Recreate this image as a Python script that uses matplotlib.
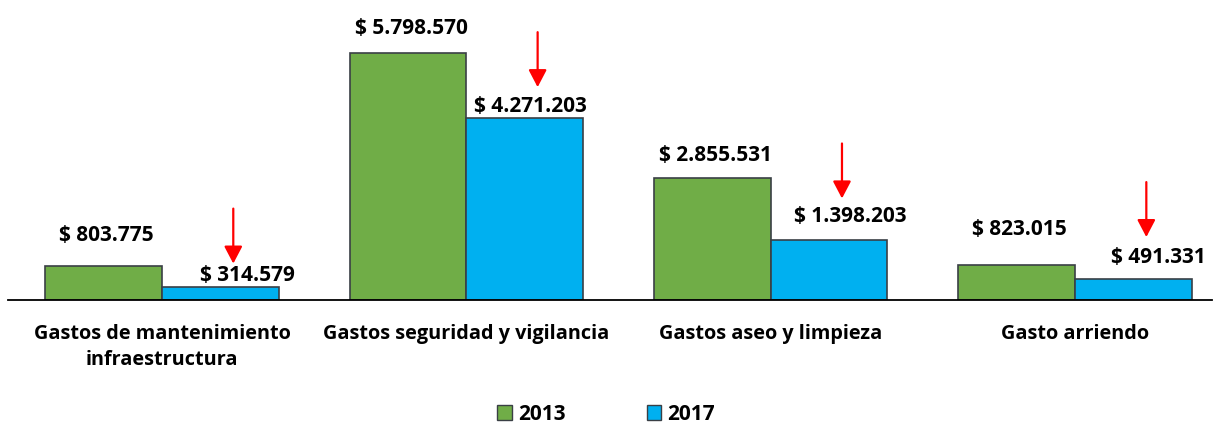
import numpy as np
import matplotlib.pyplot as plt
from matplotlib.transforms import offset_copy
from matplotlib.patches import Patch

# datos
categorias = ["Gastos de mantenimiento\ninfraestructura", "Gastos seguridad y vigilancia",
              "Gastos aseo y limpieza", "Gasto arriendo"]
valores_2013 = [803775, 5798570, 2855531, 823015]
valores_2017 = [314579, 4271203, 1398203, 491331]
etiquetas_2013 = ["$ 803.775", "$ 5.798.570", "$ 2.855.531", "$ 823.015"]
etiquetas_2017 = ["$ 314.579", "$ 4.271.203", "$ 1.398.203", "$ 491.331"]

plt.rcParams['font.family'] = ['Open Sans', 'DejaVu Sans']
verde = '#70AD47'
azul = '#00B0F0'
borde = '#3a3f45'
fs = 15

fig = plt.figure(figsize=(12.16, 4.24), dpi=100)
ax = fig.add_axes([8/1216, 124/424, 1204/1216, 298/424])

x = np.arange(len(categorias))
w = 0.383
ax.bar(x - w/2, valores_2013, w, color=verde, edgecolor=borde, linewidth=1.2)
ax.bar(x + w/2, valores_2017, w, color=azul, edgecolor=borde, linewidth=1.2)

# desplazamientos de etiquetas y flechas (pixeles)
dy13 = [30, 25, 23, 35]
dx17 = [27, 6, 21, 25]
dy17 = [11, 12, 24, 22]
dyf = [23, 31, 42, 42]
for i in range(len(categorias)):
    t = offset_copy(ax.transData, fig, x=3, y=dy13[i], units='dots')
    ax.text(x[i] - w/2, valores_2013[i], etiquetas_2013[i], transform=t,
            ha='center', va='center', fontsize=fs, fontweight='bold')
    t = offset_copy(ax.transData, fig, x=dx17[i], y=dy17[i], units='dots')
    ax.text(x[i] + w/2, valores_2017[i], etiquetas_2017[i], transform=t,
            ha='center', va='center', fontsize=fs, fontweight='bold')
    # flecha roja
    t1 = offset_copy(ax.transData, fig, x=13, y=dyf[i], units='dots')
    t2 = offset_copy(ax.transData, fig, x=13, y=dyf[i] + 55, units='dots')
    ax.annotate('', xy=(x[i] + w/2, valores_2017[i]), xycoords=t1,
                xytext=(x[i] + w/2, valores_2017[i]), textcoords=t2,
                arrowprops=dict(arrowstyle='-|>,head_width=0.55,head_length=1.05',
                                color='#FF0000', lw=1.6, shrinkA=0, shrinkB=0))

ax.set_xlim(-0.506, 3.45)
ax.set_ylim(0, 7000000)
ax.set_xticks(x)
ax.set_xticklabels(categorias, fontsize=14.3, fontweight='bold', linespacing=1.4)
ax.tick_params(axis='x', length=0, pad=17)
ax.set_yticks([])
for s in ['top', 'right', 'left']:
    ax.spines[s].set_visible(False)
ax.spines['bottom'].set_linewidth(1.3)

handles = [Patch(facecolor=verde, edgecolor=borde, label='2013'),
           Patch(facecolor=azul, edgecolor=borde, label='2017')]
leg = fig.legend(handles=handles, loc='center', bbox_to_anchor=(606/1216, 10/424), ncol=2,
                 frameon=False, handlelength=0.7, handleheight=0.7, handletextpad=0.3,
                 columnspacing=3.9, prop={'weight': 'bold', 'size': fs})

fig.savefig('out.png', dpi=100)
